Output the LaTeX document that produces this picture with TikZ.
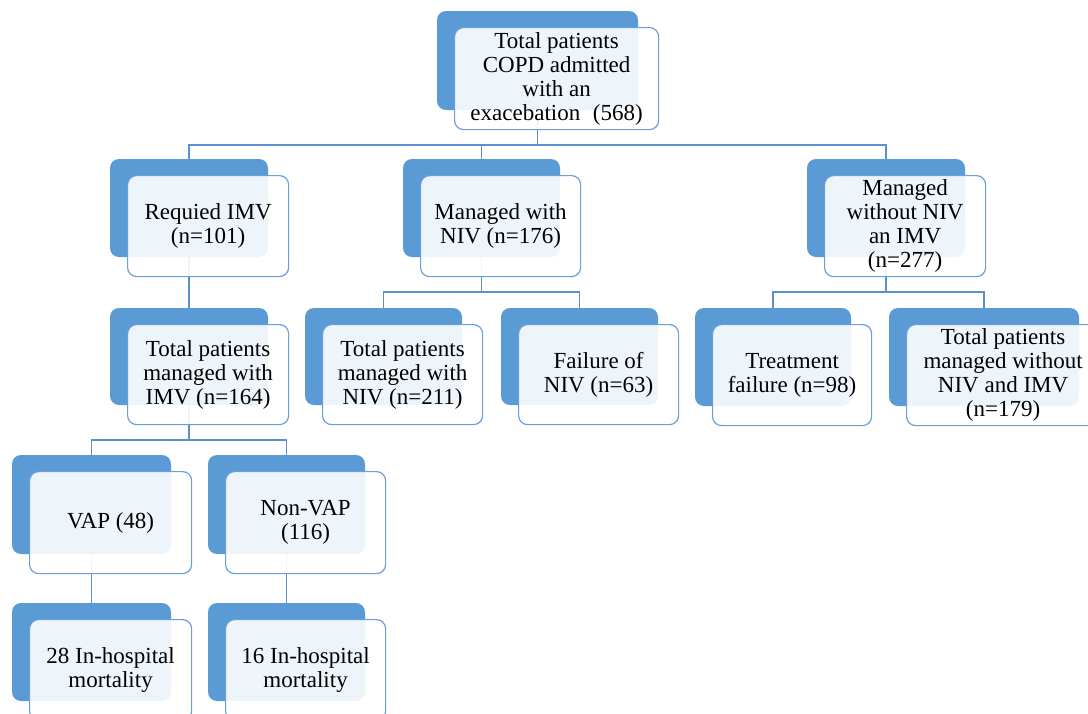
\documentclass[tikz,border=0pt]{standalone}
\usepackage{fontspec}
\setmainfont{Liberation Serif}
\usetikzlibrary{backgrounds}
\definecolor{boxblue}{HTML}{5B9BD5}
\definecolor{edgeblue}{HTML}{6A9FD8}
\definecolor{lineblue}{HTML}{5A90CC}
\tikzset{
  backbox/.style={fill=boxblue, rounded corners=9pt, inner sep=0pt, outer sep=0pt},
  frontbox/.style={draw=edgeblue, line width=1.2pt, fill=white, fill opacity=0.9, text opacity=1,
    rounded corners=9pt, inner sep=0pt, align=center, font=\fontsize{23}{24}\selectfont},
  conn/.style={draw=lineblue, line width=1.3pt},
}
% name, back-left, back-top, width, height, text
\newcommand{\twobox}[6]{%
  \node[backbox, minimum width=#4pt, minimum height=#5pt, anchor=north west] (#1-b) at (#2,#3) {};
  \node[frontbox, minimum width={#4pt+3pt}, minimum height={#5pt+3pt}, anchor=north west] (#1) at ({#2+17},{#3+16}) {#6};
}
\begin{document}
\begin{tikzpicture}[x=1pt,y=-1pt]
\useasboundingbox (0,0) rectangle (1088,713);

\twobox{root}{437}{11}{201}{99}{Total patients\\COPD admitted\\with an\\exacebation\hspace{0.3em} (568)}
\twobox{imv}{110}{159}{158}{98}{Requied IMV\\(n=101)}
\twobox{niv}{403}{159}{157}{98}{Managed with\\NIV (n=176)}
\twobox{wo}{807}{159}{158}{98}{Managed\\without NIV\\an IMV\\(n=277)}
\twobox{timv}{110}{308}{158}{97}{Total patients\\managed with\\IMV (n=164)}
\twobox{tniv}{305}{308}{157}{97}{Total patients\\managed with\\NIV (n=211)}
\twobox{fniv}{501}{308}{157}{97}{Failure of\\NIV (n=63)}
\twobox{tf}{695}{308}{156}{98}{Treatment\\failure (n=98)}
\twobox{twn}{889}{308}{190}{98}{Total patients\\managed without\\NIV and IMV\\(n=179)}
\twobox{vap}{12}{455}{159}{99}{VAP (48)}
\twobox{nvap}{208}{455}{157}{99}{Non-VAP\\(116)}
\twobox{m28}{12}{603}{159}{98}{28 In-hospital\\mortality}
\twobox{m16}{208}{603}{157}{98}{16 In-hospital\\mortality}

\coordinate (y1) at (0,145);
\coordinate (y2) at (0,292);
\coordinate (y3) at (0,440);

\begin{scope}[on background layer]
  \fill[white] (0,0) rectangle (1088,713);
  \draw[conn] (root-b.south) -- (root-b.south |- y1);
  \draw[conn] (imv-b.north) |- (root-b.south |- y1) -| (wo-b.north);
  \draw[conn] (niv-b.north) -- (niv-b.north |- y1);
  \draw[conn] (imv-b.south) -- (timv-b.north);
  \draw[conn] (niv-b.south) -- (niv-b.south |- y2);
  \draw[conn] (tniv-b.north) |- (niv-b.south |- y2) -| (fniv-b.north);
  \draw[conn] (wo-b.south) -- (wo-b.south |- y2);
  \draw[conn] (tf-b.north) |- (wo-b.south |- y2) -| (twn-b.north);
  \draw[conn] (timv-b.south) -- (timv-b.south |- y3);
  \draw[conn] (vap-b.north) |- (timv-b.south |- y3) -| (nvap-b.north);
  \draw[conn] (vap-b.south) -- (m28-b.north);
  \draw[conn] (nvap-b.south) -- (m16-b.north);
\end{scope}
\end{tikzpicture}
\end{document}
